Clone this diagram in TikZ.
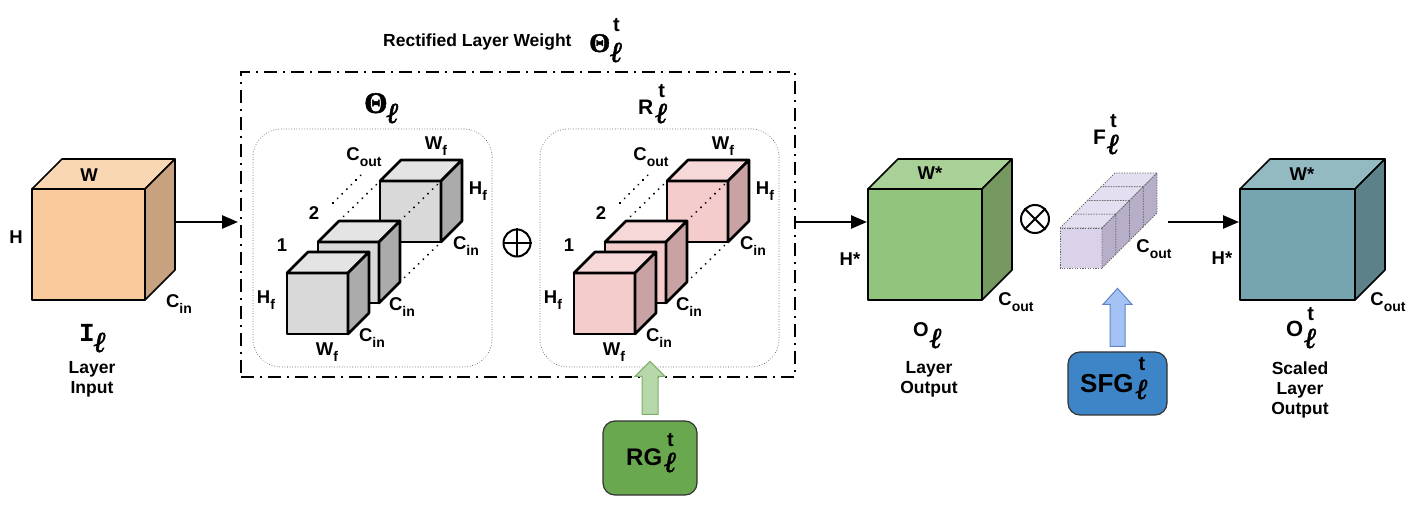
\documentclass[tikz,border=0pt]{standalone}
\usepackage{fontspec}
\setmainfont{Liberation Sans}
\newfontfamily\monof{Liberation Mono}
\newfontfamily\serf{Liberation Serif}
\newfontfamily\ellf{Liberation Serif Bold Italic}[FakeBold=2]
\newfontfamily\thetaf{Liberation Serif Bold}[FakeBold=1.5]
\usetikzlibrary{arrows.meta,calc}
\definecolor{inF}{HTML}{F9CB9C}\definecolor{inT}{HTML}{FAD7B3}\definecolor{inS}{HTML}{C8A27E}
\definecolor{gF}{HTML}{D9D9D9}\definecolor{gT}{HTML}{E4E4E4}\definecolor{gS}{HTML}{ABABAB}
\definecolor{pF}{HTML}{F4CCCC}\definecolor{pT}{HTML}{F7D8D8}\definecolor{pS}{HTML}{C9A3A3}
\definecolor{grF}{HTML}{93C47D}\definecolor{grT}{HTML}{A9D096}\definecolor{grS}{HTML}{74985F}
\definecolor{tF}{HTML}{76A5AF}\definecolor{tT}{HTML}{93B9C1}\definecolor{tS}{HTML}{5C8189}
\definecolor{fF}{HTML}{D9D2E9}\definecolor{fT}{HTML}{E3DEF0}\definecolor{fS}{HTML}{B7AFCA}
\definecolor{sfgC}{HTML}{3D85C6}\definecolor{rgC}{HTML}{6AA84F}
\definecolor{abF}{HTML}{A4C2F4}\definecolor{abD}{HTML}{5F86C4}
\definecolor{agF}{HTML}{B6D7A8}\definecolor{agD}{HTML}{7FAE6A}
\newcommand\ellb{{\ellf\fontsize{29}{29}\selectfont ℓ}}
\newcommand\tsup{{\fontsize{20}{20}\selectfont\bfseries t}}
% base, t raise, ell raise, kern
\newcommand\TS[4]{#1\kern#4pt\rlap{\kern3pt\raisebox{#2pt}{\tsup}}\raisebox{#3pt}{\ellb}}
\newcommand\SE[3]{#1\kern#3pt\raisebox{#2pt}{\ellb}}
\newcommand\sbs[1]{\raisebox{-0.3em}{\fontsize{14}{14}\selectfont #1}}
\newcommand\drawcube[9]{%
 \filldraw[#9,fill=#6] (#1,#2) rectangle ({#1+#3},{#2+#4});
 \filldraw[#9,fill=#7] (#1,#2) -- ({#1+#5},{#2-#5}) -- ({#1+#3+#5},{#2-#5}) -- ({#1+#3},{#2}) -- cycle;
 \filldraw[#9,fill=#8] ({#1+#3},{#2}) -- ({#1+#3+#5},{#2-#5}) -- ({#1+#3+#5},{#2+#4-#5}) -- ({#1+#3},{#2+#4}) -- cycle;}
\newcommand\wblock[5]{%
 \begin{scope}[xshift=#2]
 \drawcube{380}{181}{61}{61}{21}{#3}{#4}{#5}{smallcube}
 \draw[blkdots] (333,203) -- (363,173);
 \draw[blkdots] (339,221) -- (380,181);
 \draw[blkdots] (400,221) -- (441,181);
 \draw[blkdots] (400,282) -- (441,242);
 \drawcube{318}{242}{61}{61}{21}{#3}{#4}{#5}{smallcube}
 \drawcube{287}{273}{61}{61}{21}{#3}{#4}{#5}{smallcube}
 \node[lab] (#1cout) at (364,157) {C\sbs{out}};
 \node[lab] (#1wft) at (436,146) {W\sbs{f}};
 \node[lab] (#1hfr) at (478,191) {H\sbs{f}};
 \node[lab] (#1cinb) at (466,246) {C\sbs{in}};
 \node[lab] (#1two) at (314,213) {2};
 \node[lab] (#1one) at (282,245) {1};
 \node[lab] (#1hfl) at (266,300) {H\sbs{f}};
 \node[lab] (#1cinm) at (402,307) {C\sbs{in}};
 \node[lab] (#1cinf) at (372,338) {C\sbs{in}};
 \node[lab] (#1wfb) at (327,352) {W\sbs{f}};
 \end{scope}}
\begin{document}
\begin{tikzpicture}[x=1pt,y=-1pt,
 lab/.style={font=\fontsize{18.5}{18.5}\selectfont\bfseries,inner sep=0pt},
 txt/.style={font=\fontsize{17.5}{20}\selectfont\bfseries,inner sep=0pt,align=center},
 sym/.style={anchor=base west,inner sep=0pt},
 flow/.style={line width=2.5pt,-{Triangle[length=16pt,width=13pt]}},
 bigcube/.style={draw=black,line width=1.6pt,line join=round},
 smallcube/.style={draw=black,line width=2.6pt,line join=round},
 fslice/.style={draw=black!60,line width=0.9pt,dash pattern=on 1.2pt off 1.4pt},
 blkdots/.style={draw=black,line width=2.2pt,line cap=round,dash pattern=on 0.01pt off 6.5pt},
 inbox/.style={draw=black!60,line width=1pt,line cap=round,dash pattern=on 0.01pt off 2.6pt,rounded corners=28pt,inner sep=0pt,outer sep=0pt},
 rwbox/.style={draw=black,line width=1.8pt,dash pattern=on 13pt off 6pt on 2pt off 6pt,inner sep=0pt,outer sep=0pt},
 opcircle/.style={circle,draw=black,line width=2pt,inner sep=0pt},
 gbox/.style={rounded corners=12pt,line width=1.2pt,inner sep=0pt}]
\useasboundingbox (0,0) rectangle (1419,510);
% outer rectified weight box
\node[rwbox,minimum width=554pt,minimum height=305pt] (rw) at (518,224.5) {};
\node[inbox,minimum width=239pt,minimum height=238pt] (ib1) at (372.5,248) {};
\node[inbox,minimum width=239pt,minimum height=238pt] (ib2) at (659.5,248) {};
\node[font=\fontsize{17.5}{17.5}\selectfont\bfseries,anchor=base west,inner sep=0pt] (title) at (383,47) {Rectified Layer Weight};
\node[sym] (thetat) at (589,52) {\TS{{\thetaf\fontsize{27}{27}\selectfont Θ}}{20}{-10}{0}};
\node[sym] (theta) at (364,113) {\SE{{\thetaf\fontsize{30}{30}\selectfont Θ}}{-10}{-1}};
\node[sym,font=\fontsize{21}{21}\selectfont\bfseries] (rlt) at (638,115) {\TS{R}{17}{-8}{2}};
% weight blocks
\wblock{a}{0}{gF}{gT}{gS}
\wblock{b}{287}{pF}{pT}{pS}
\node[opcircle,minimum size=27pt] (oplus) at (517,243) {};
\draw[line width=2pt] (oplus.north) -- (oplus.south) (oplus.west) -- (oplus.east);
% input cube
\drawcube{32}{189}{113}{111}{30}{inF}{inT}{inS}{bigcube}
\node[lab] (inW) at (89,175) {W};
\node[lab] (inH) at (16,237) {H};
\node[lab] (inC) at (179,304) {C\sbs{in}};
\node[sym,font=\fontsize{26}{26}\selectfont\monof\bfseries] (inI) at (79,342) {\SE{I}{-10}{-1}};
\node[txt] (inT) at (92,379) {Layer\\Input};
\coordinate (inR) at (176,222);
\draw[flow,shorten >=3pt] (inR) -- (inR -| rw.west);
% output cube
\drawcube{868}{189}{114}{111}{30}{grF}{grT}{grS}{bigcube}
\coordinate (gL) at (867,222);
\draw[flow] (rw.east |- gL) -- (gL);
\node[lab] (gW) at (930,173) {W*};
\node[lab] (gH) at (850,259) {H*};
\node[lab] (gC) at (1016,302) {C\sbs{out}};
\node[sym,font=\fontsize{20}{20}\selectfont\bfseries] (gO) at (913,337) {\SE{O}{-11}{1}};
\node[txt] (gT) at (929,379) {Layer\\Output};
\node[opcircle,minimum size=28pt] (otimes) at (1035,219) {};
\draw[line width=2pt] (otimes.north west) -- (otimes.south east) (otimes.north east) -- (otimes.south west);
% scaling factor
\foreach \k in {3,2,1,0} {\drawcube{1060+13.75*\k}{228-13.75*\k}{42}{40}{13.75}{fF}{fT}{fS}{fslice}}
\node[sym,font=\fontsize{21}{21}\selectfont\bfseries] (fl) at (1093,145) {\TS{F}{17}{-9}{1}};
\node[lab] (fC) at (1154,249) {C\sbs{out}};
\node[gbox,draw=black!80,fill=sfgC,minimum width=99pt,minimum height=63pt] (sfg) at (1117.5,383.5) {};
\node[sym,font=\fontsize{26}{26}\selectfont\bfseries] (sfgt) at (1080,393) {\TS{SFG}{22}{-6}{2}};
\draw[fill=abF,draw=abD,line width=1pt,line join=miter] ($(sfg.north)+(-7.5,-5)$) -- ($(sfg.north)+(-7.5,-47)$) -- ($(sfg.north)+(-14.5,-47)$) -- ($(sfg.north)+(0,-63)$) -- ($(sfg.north)+(14.5,-47)$) -- ($(sfg.north)+(7.5,-47)$) -- ($(sfg.north)+(7.5,-5)$) -- cycle;
% rectifier generator
\node[gbox,draw=black!80,fill=rgC,minimum width=94pt,minimum height=74pt] (rg) at (650,458) {};
\node[sym,font=\fontsize{24}{24}\selectfont\bfseries] (rgt) at (626,465) {\TS{RG}{19}{-7}{2}};
\draw[fill=agF,draw=agD,line width=1pt,line join=miter] ($(rg.north)+(-8,-6)$) -- ($(rg.north)+(-8,-44)$) -- ($(rg.north)+(-15,-44)$) -- ($(rg.north)+(0,-59)$) -- ($(rg.north)+(15,-44)$) -- ($(rg.north)+(8,-44)$) -- ($(rg.north)+(8,-6)$) -- cycle;
% scaled output cube
\coordinate (fR) at (1168,222);
\coordinate (tL) at (1239,222);
\draw[flow] (fR) -- (tL);
\drawcube{1240}{189}{115}{111}{30}{tF}{tT}{tS}{bigcube}
\node[lab] (tW) at (1302,174) {W*};
\node[lab] (tH) at (1222,258) {H*};
\node[lab] (tC) at (1388,302) {C\sbs{out}};
\node[sym,font=\fontsize{22}{22}\selectfont\bfseries] (tO) at (1286,337) {\TS{O}{16}{-11}{1}};
\node[txt] (tT) at (1300,390) {Scaled\\Layer\\Output};
\end{tikzpicture}
\end{document}
